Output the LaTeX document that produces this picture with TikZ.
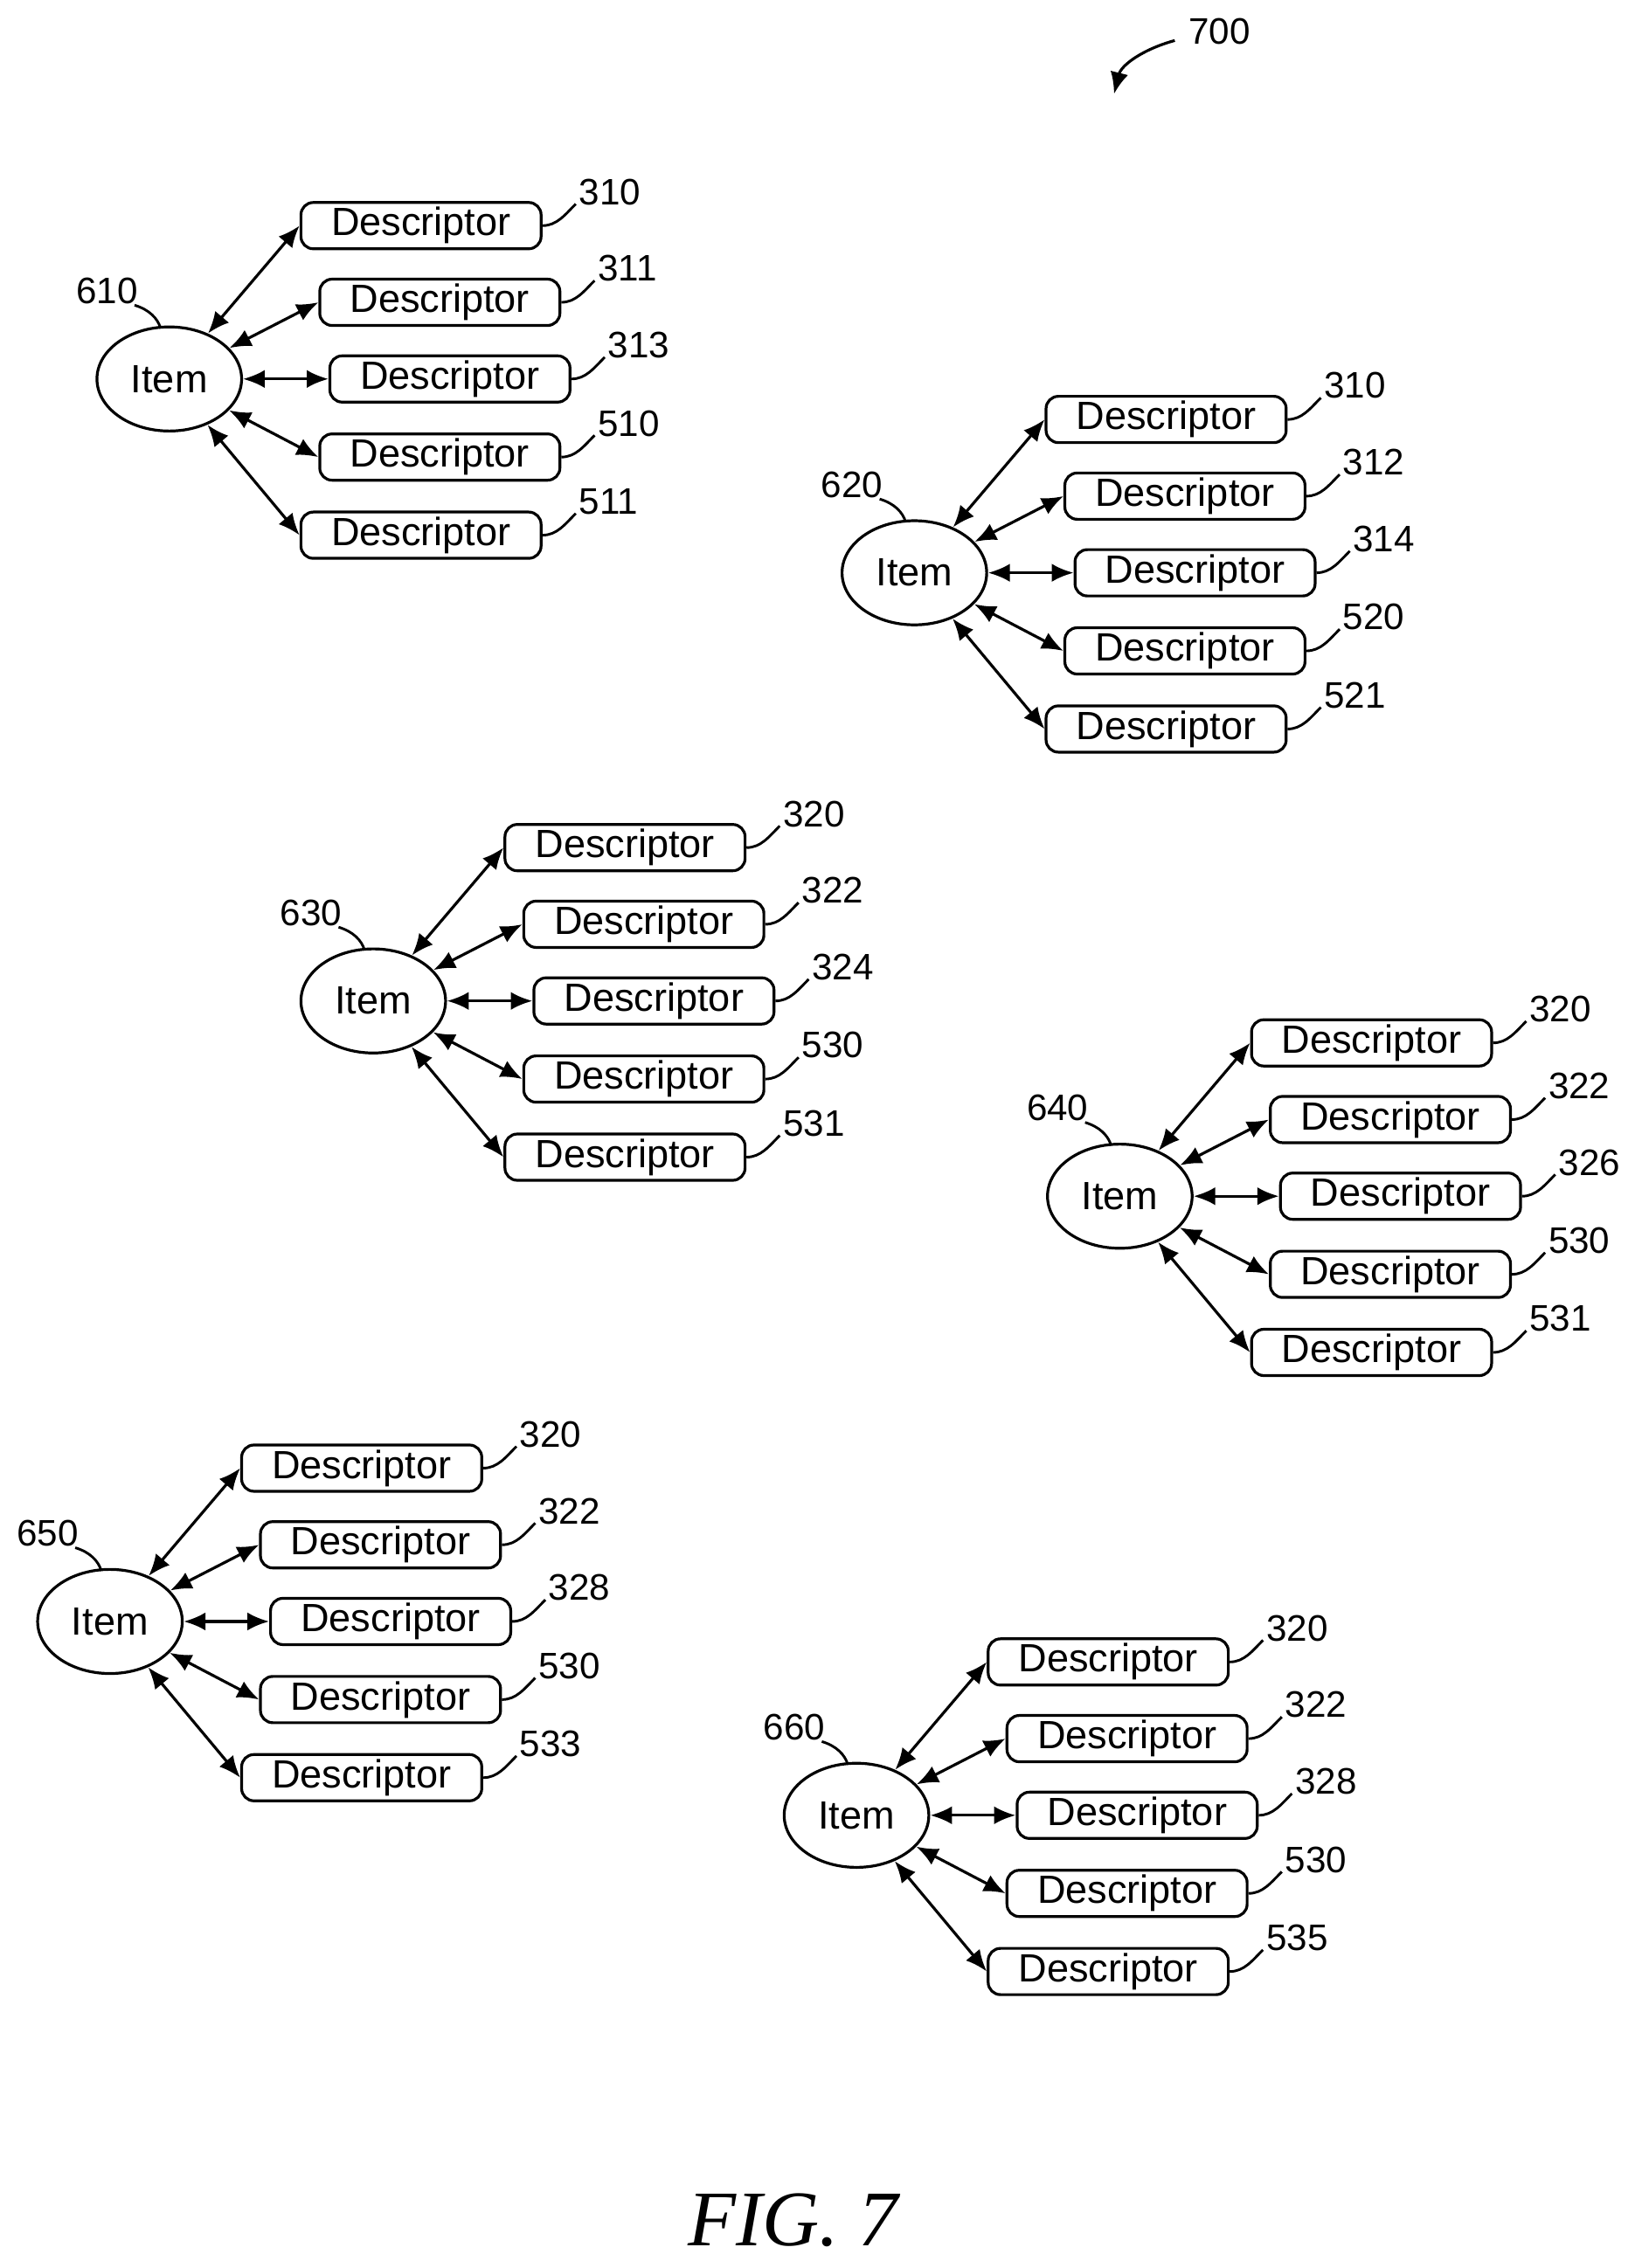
\documentclass[tikz,border=0pt]{standalone}
\usepackage{fontspec}
\setmainfont{Liberation Sans}
\newfontfamily\figfont{Liberation Serif}
\usetikzlibrary{shapes.geometric,arrows.meta,calc}
\tikzset{
 item/.style={ellipse,draw,line width=1.1pt,minimum width=2cm,minimum height=1.44cm,inner sep=0pt,font=\fontsize{15.5}{15}\selectfont},
 desc/.style={draw,line width=1.1pt,rounded corners=0.17cm,minimum width=3.32cm,minimum height=0.64cm,inner sep=0pt,font=\fontsize{15.5}{15}\selectfont},
 lab/.style={font=\fontsize{14.5}{15}\selectfont,inner sep=0pt},
 conn/.style={line width=1.1pt,{Latex[length=3mm,width=2.5mm]}-{Latex[length=3mm,width=2.5mm]}},
 lead/.style={line width=1pt}
}
\newcommand\dlab[2]{\node[lab,anchor=south west] (l#1) at ($(#1.east)+(0.5cm,0.28cm)$) {#2};
 \draw[lead] (#1.east) .. controls +(0.2cm,0) and +(-0.15cm,-0.15cm) .. ($(#1.east)+(0.46cm,0.3cm)$);}
\newcommand\clus[8]{%
\begin{scope}[shift={(#1,-#2)}]
\node[item] (i#3) at (0,0) {Item};
\node[desc] (#3a) at (174,106) {Descriptor};
\node[desc] (#3b) at (187,53) {Descriptor};
\node[desc] (#3c) at (194,0) {Descriptor};
\node[desc] (#3d) at (187,-54) {Descriptor};
\node[desc] (#3e) at (174,-108) {Descriptor};
\foreach \k in {a,b,c,d,e}{\draw[conn] (i#3) -- (#3\k.west);}
\dlab{#3a}{#4}\dlab{#3b}{#5}\dlab{#3c}{#6}\dlab{#3d}{#7}\dlab{#3e}{#8}
\node[lab] (n#3) at (-43,61) {#3};
\draw[lead] (-24,51) .. controls (-14,48) and (-8,42) .. (-6,35);
\end{scope}}
\begin{document}
\begin{tikzpicture}[x=0.02cm,y=0.02cm]
\useasboundingbox (0,0) rectangle (1130,-1568);
\clus{117}{262}{610}{310}{311}{313}{510}{511}
\clus{632}{396}{620}{310}{312}{314}{520}{521}
\clus{258}{692}{630}{320}{322}{324}{530}{531}
\clus{774}{827}{640}{320}{322}{326}{530}{531}
\clus{76}{1121}{650}{320}{322}{328}{530}{533}
\clus{592}{1255}{660}{320}{322}{328}{530}{535}
\node[lab] (n700) at (843,-22) {700};
\draw[line width=1.1pt,-{Latex[length=3mm,width=2.5mm]}] (812,-28) .. controls (790,-34) and (775,-45) .. (770,-65);
\node[font=\figfont\itshape\fontsize{31}{32}\selectfont] (fig) at (548,-1535) {FIG. 7};
\end{tikzpicture}
\end{document}
